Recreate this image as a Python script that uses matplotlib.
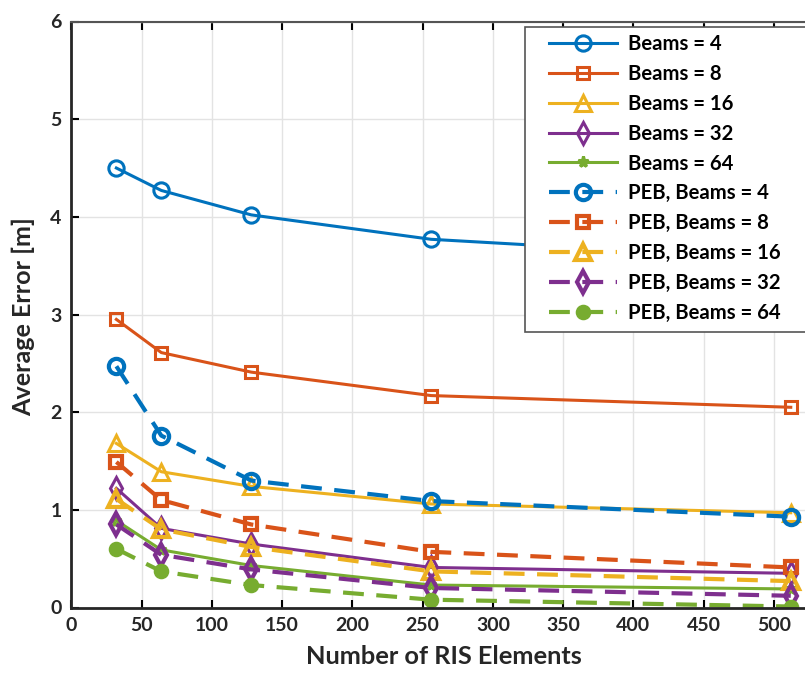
import matplotlib
matplotlib.use("Agg")
import matplotlib.pyplot as plt
from matplotlib.patches import Rectangle

plt.rcParams['font.family'] = ['Lato', 'DejaVu Sans']
plt.rcParams['font.weight'] = 'bold'

ris = [32, 64, 128, 256, 512]
beams4 = [4.50, 4.27, 4.02, 3.77, 3.56]
beams8 = [2.95, 2.61, 2.41, 2.17, 2.05]
beams16 = [1.68, 1.39, 1.24, 1.06, 0.97]
beams32 = [1.22, 0.81, 0.65, 0.41, 0.35]
beams64 = [0.89, 0.59, 0.43, 0.23, 0.19]
peb4 = [2.47, 1.76, 1.30, 1.09, 0.93]
peb8 = [1.49, 1.10, 0.85, 0.57, 0.41]
peb16 = [1.11, 0.80, 0.62, 0.37, 0.27]
peb32 = [0.85, 0.54, 0.39, 0.20, 0.12]
peb64 = [0.60, 0.37, 0.23, 0.08, 0.01]

labels = ['Beams = 4', 'Beams = 8', 'Beams = 16', 'Beams = 32', 'Beams = 64',
          'PEB, Beams = 4', 'PEB, Beams = 8', 'PEB, Beams = 16', 'PEB, Beams = 32', 'PEB, Beams = 64']
colors = ['#0072BD', '#D95319', '#EDB120', '#7E2F8E', '#77AC30']
markers = ['o', 's', '^', 'd', '*']

W, H = 805, 675
fig = plt.figure(figsize=(W / 100, H / 100), dpi=100)
AX_L, AX_B, AX_W, AX_H = 71.4, 67.5, 550 * 1.405, 586
ax = fig.add_axes([AX_L / W, AX_B / H, AX_W / W, AX_H / H])

def px_to_axes(x, y_top):
    return (x - AX_L) / AX_W, (H - y_top - AX_B) / AX_H

solid = [beams4, beams8, beams16, beams32, beams64]
dashed = [peb4, peb8, peb16, peb32, peb64]
msz = [11, 9, 12, 11, 8]
for i in range(5):
    ax.plot(ris, solid[i], '-', color=colors[i], marker=markers[i], ms=msz[i],
            mfc='none', mec=colors[i], mew=2.2, lw=2.2, label=labels[i])
for i in range(5):
    if i == 4:
        ax.plot(ris, dashed[i], '--', color=colors[i], marker='o', ms=9,
                mfc=colors[i], mec=colors[i], mew=2.2, lw=3.0, dashes=(5, 3), label=labels[5 + i])
    else:
        ax.plot(ris, dashed[i], '--', color=colors[i], marker=markers[i], ms=msz[i],
                mfc='none', mec=colors[i], mew=3.0, lw=3.0, dashes=(5, 3), label=labels[5 + i])

ax.set_xlim(0, 550)
ax.set_ylim(0, 6)
ax.set_xticks(range(0, 501, 50))
ax.set_yticks(range(0, 7))
ax.grid(True, color='#e3e3e3', lw=1.0)
ax.set_axisbelow(True)
ax.tick_params(direction='in', top=True, right=True, length=6, width=1.5,
               labelsize=14, pad=7, labelcolor='#262626')
for lab in ax.get_xticklabels() + ax.get_yticklabels():
    lab.set_fontweight('bold')
for s in ['left', 'bottom']:
    ax.spines[s].set_linewidth(2.0)
    ax.spines[s].set_color('#262626')
for s in ['top', 'right']:
    ax.spines[s].set_linewidth(1.5)
    ax.spines[s].set_color('#555555')

xl = ax.set_xlabel('Number of RIS Elements', fontsize=18, fontweight='bold', color='#262626')
yl = ax.set_ylabel('Average Error [m]', fontsize=18, fontweight='bold', color='#262626')

fig.canvas.draw()
r = fig.canvas.get_renderer()
w = xl.get_window_extent(r).width
xl.set_fontsize(18 * 277 / w)
h = yl.get_window_extent(r).height
yl.set_fontsize(18 * 199 / h)
ax.xaxis.set_label_coords(*px_to_axes(305 + 277 / 2, 657))
ax.yaxis.set_label_coords(*px_to_axes(23, 317))
xl.set_va('center')
yl.set_va('center')

# legend frame (extends past the right edge of the figure, as in the reference)
x0, y0 = px_to_axes(525, 332)
x1, y1 = px_to_axes(820, 27)
frame = Rectangle((x0, y0), x1 - x0, y1 - y0, transform=ax.transAxes, facecolor='white',
                  edgecolor='#555555', lw=1.2, zorder=9, clip_on=False)
ax.add_patch(frame)

def make_leg(fs, ls):
    em = fs * 100 / 72
    return ax.legend(loc='upper left', bbox_to_anchor=px_to_axes(549, 34),
                     prop={'weight': 'bold', 'size': fs}, handlelength=68 / em,
                     labelspacing=ls, borderpad=0, handletextpad=11 / em,
                     frameon=False, borderaxespad=0)
leg_fs = 14
leg = make_leg(leg_fs, 0.65)
fig.canvas.draw()
tw = leg.get_texts()[9].get_window_extent(r).width
leg_fs = leg_fs * 154 / tw
leg = make_leg(leg_fs, 0.65)
fig.canvas.draw()
hb = leg.get_window_extent(r).height
ls = 0.65 + (289 - hb) / 9 / (leg_fs * 100 / 72)
leg = make_leg(leg_fs, ls)
leg.set_zorder(10)

fig.savefig('out.png', dpi=100)
